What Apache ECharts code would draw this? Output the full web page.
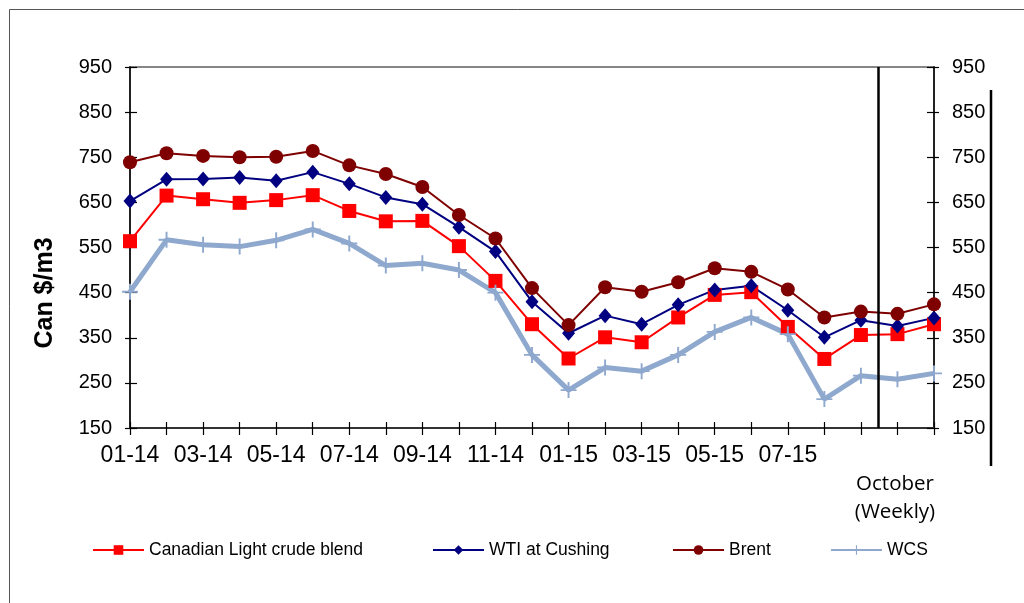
<!DOCTYPE html>
<html>
<head>
<meta charset="utf-8">
<script src="https://cdn.jsdelivr.net/npm/echarts@6/dist/echarts.min.js"></script>
<style>html,body{margin:0;padding:0;background:#fff;}#c{width:1024px;height:603px;}</style>
</head>
<body>
<div id="c"></div>
<script>
const categories = ['01-14','02-14','03-14','04-14','05-14','06-14','07-14','08-14','09-14','10-14','11-14','12-14',
  '01-15','02-15','03-15','04-15','05-15','06-15','07-15','08-15','09-15','Oct wk1','Oct wk2'];
const xTickLabels = ['01-14','','03-14','','05-14','','07-14','','09-14','','11-14','',
  '01-15','','03-15','','05-15','','07-15','','','',''];
const yTickLabels = ['150','250','350','450','550','650','750','850','950'];
const canadianLight = [564,665,657,649,655,666,631,608,609,553,476,380,304,351,340,395,445,451,374,303,356,358,380];
const wtiCushing   = [653,701,702,705,698,717,691,661,646,595,541,430,360,399,380,423,456,465,411,351,389,376,394];
const brent        = [739,759,753,750,751,764,732,713,684,622,570,460,378,462,452,473,504,496,457,395,408,403,424];
const wcs          = [452,567,556,552,566,590,559,510,515,500,450,312,234,284,276,312,363,395,358,214,266,258,271];
const seriesNames = ['Canadian Light crude blend','WTI at Cushing','Brent','WCS'];
const dividerPos = 20.47;
const weeklyLabel = 'October\n(Weekly)';
const yTitle = 'Can $/m3';

const FONT = 'Liberation Sans';
const crossPath = 'path://M-1,-0.12 L-0.12,-0.12 L-0.12,-1 L0.12,-1 L0.12,-0.12 L1,-0.12 L1,0.12 L0.12,0.12 L0.12,1 L-0.12,1 L-0.12,0.12 L-1,0.12 Z';

const chart = echarts.init(document.getElementById('c'), null, {renderer:'canvas'});

const labelAxis = (pos, inside, showLabel, showLine) => ({
  type:'value', position:pos, min:0, max:800, interval:100,
  axisLine:{show:showLine, lineStyle:{color:'#000', width:1.5}},
  axisTick:{show:true, inside:inside, length:inside?7:5, lineStyle:{color:'#000', width:1.2}},
  axisLabel:{show:showLabel, margin:18, color:'#000', fontFamily:FONT, fontSize:20,
    formatter:(v)=>yTickLabels[Math.round(v/100)]},
  splitLine:{show:false}
});

const legendBase = (left, name) => ({
  left:left, top:541, padding:0, orient:'horizontal', itemWidth:51, itemHeight:12, itemGap:5,
  data:[name], selectedMode:false,
  textStyle:{color:'#000', fontFamily:FONT, fontSize:17.5}
});

chart.setOption({
  animation:false,
  backgroundColor:'#fff',
  grid:{left:130, right:90, top:67, bottom:175, show:true, borderColor:'#868686', borderWidth:2, backgroundColor:'transparent'},
  xAxis:[
    {type:'category', data:categories, boundaryGap:false,
      axisLine:{lineStyle:{color:'#333', width:2}},
      axisTick:{show:true, interval:0, length:7, lineStyle:{color:'#000', width:1.2}},
      axisLabel:{interval:0, margin:16, color:'#000', fontFamily:FONT, fontSize:23,
        formatter:(v, i)=>xTickLabels[i]},
      splitLine:{show:false}},
    {type:'value', min:0, max:categories.length-1, show:false},
    {type:'category', data:categories, boundaryGap:false, position:'bottom',
      axisLine:{show:false}, axisLabel:{show:false},
      axisTick:{show:true, inside:true, interval:0, length:6, lineStyle:{color:'#000', width:1.2}}}
  ],
  yAxis:[
    {type:'value', min:150, max:950, position:'left',
      axisLine:{show:true, lineStyle:{color:'#000', width:1.5}},
      axisTick:{show:false}, axisLabel:{show:false}, splitLine:{show:false}},
    labelAxis('left', false, true, false),
    labelAxis('left', true, false, false),
    labelAxis('right', false, true, true),
    labelAxis('right', true, false, false)
  ],
  legend:[
    legendBase(92, seriesNames[0]),
    legendBase(432, seriesNames[1]),
    legendBase(672, seriesNames[2]),
    legendBase(830, seriesNames[3])
  ],
  series:[
    {name:seriesNames[0], type:'line', data:canadianLight, symbol:'rect', symbolSize:14, showAllSymbol:true,
      lineStyle:{color:'#FF0000', width:2}, itemStyle:{color:'#FF0000'}},
    {name:seriesNames[1], type:'line', data:wtiCushing, symbol:'diamond', symbolSize:[13,15], showAllSymbol:true,
      lineStyle:{color:'#000080', width:2}, itemStyle:{color:'#000080'}},
    {name:seriesNames[2], type:'line', data:brent, symbol:'circle', symbolSize:14, showAllSymbol:true,
      lineStyle:{color:'#7F0000', width:2}, itemStyle:{color:'#7F0000'}},
    {name:seriesNames[3], type:'line', data:wcs, symbol:crossPath, symbolSize:16, showAllSymbol:true,
      lineStyle:{color:'#8EA8CE', width:5}, itemStyle:{color:'#8EA8CE'}},
    {name:'divider', type:'line', xAxisIndex:1, yAxisIndex:0, data:[], silent:true,
      markLine:{silent:true, symbol:['none','none'], label:{show:false},
        lineStyle:{color:'#000', width:2.5, type:'solid'},
        data:[{xAxis:dividerPos}]}}
  ],
  graphic:[
    {type:'rect', shape:{x:9.5, y:9.5, width:1100, height:700}, style:{fill:'none', stroke:'#555', lineWidth:1}, silent:true},
    {type:'line', shape:{x1:991, y1:90, x2:991, y2:466}, style:{stroke:'#000', lineWidth:2.5}, silent:true},
    {type:'text', x:895, y:470, style:{text:weeklyLabel, fill:'#000', font:'20.5px "Open Sans"', lineHeight:28,
      align:'center', verticalAlign:'top'}, silent:true},
    {type:'text', x:45, y:293, rotation:Math.PI/2, style:{text:yTitle, fill:'#000', font:'bold 25px "Liberation Sans"',
      align:'center', verticalAlign:'middle'}, silent:true}
  ]
});
</script>
</body>
</html>
